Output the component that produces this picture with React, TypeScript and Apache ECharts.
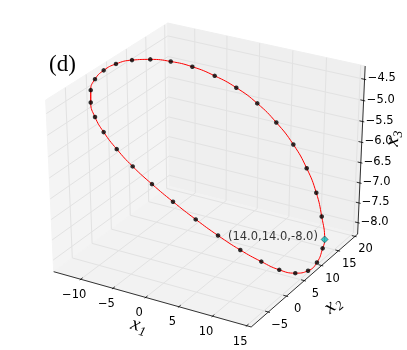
import React, { useEffect, useRef } from "react";
import * as echarts from "echarts";

// ---- view / axes ----
const ELEV = 30;
const AZIM = -60;
const DIST = 10;
const X_LIM = [-14.25, 15.65];
const Y_LIM = [-9.6, 20.8];
const Z_LIM = [-8.29, -4.19];
const X_TICKS = [-10, -5, 0, 5, 10, 15];
const Y_TICKS = [-5, 0, 5, 10, 15, 20];
const Z_TICKS = [-8.0, -7.5, -7.0, -6.5, -6.0, -5.5, -5.0, -4.5];
const X_TICK_LABELS = ["\u221210", "\u22125", "0", "5", "10", "15"];
const Y_TICK_LABELS = ["\u22125", "0", "5", "10", "15", "20"];
const Z_TICK_LABELS = ["\u22128.0", "\u22127.5", "\u22127.0", "\u22126.5", "\u22126.0", "\u22125.5", "\u22125.0", "\u22124.5"];

// ---- data: sampled points of the orbit (x1, x2, x3) ----
const X1 = [-12.85, -13.44, -13.63, -13.39, -12.71, -11.66, -10.21, -8.4, -6.22, -3.83, -1.17, 1.64, 4.55, 7.35, 9.9, 12.1,
  14.51, 15.12, 15.09, 14.36, 12.99, 11.14, 8.84, 6.26, 3.6, 0.81, -1.86, -4.41, -6.71, -8.79, -10.49, -11.86];
const X2 = [-1.21, 0.81, 3.27, 5.94, 8.86, 11.8, 14.69, 17.34, 19.63, 21.39, 22.55, 22.9, 22.49, 21.21, 19.26, 16.72,
  12.45, 9.64, 7.13, 4.86, 2.9, 1.33, -0.22, -1.56, -2.72, -3.73, -4.47, -4.97, -5.04, -4.77, -4.06, -2.84];
const X3 = [-4.43, -4.32, -4.27, -4.27, -4.33, -4.45, -4.62, -4.84, -5.12, -5.43, -5.79, -6.18, -6.59, -6.99, -7.37, -7.7,
  -8.09, -8.21, -8.23, -8.15, -7.98, -7.74, -7.44, -7.1, -6.74, -6.36, -6.0, -5.65, -5.33, -5.03, -4.79, -4.58];
const START = [14, 14, -8];
const START_INDEX = 16; // the start point sits between samples 16 and 17
const START_LABEL = "(14.0,14.0,-8.0)";

// ---- projection (matplotlib-style 3D view) ----
type V3 = number[];
const sub = (a: V3, b: V3) => [a[0] - b[0], a[1] - b[1], a[2] - b[2]];
const dot = (a: V3, b: V3) => a[0] * b[0] + a[1] * b[1] + a[2] * b[2];
const cross = (a: V3, b: V3) => [a[1] * b[2] - a[2] * b[1], a[2] * b[0] - a[0] * b[2], a[0] * b[1] - a[1] * b[0]];
const unit = (a: V3) => { const m = Math.hypot(a[0], a[1], a[2]); return [a[0] / m, a[1] / m, a[2] / m]; };
const el = (ELEV * Math.PI) / 180;
const az = (AZIM * Math.PI) / 180;
const EYE = [0.5 + Math.cos(az) * Math.cos(el) * DIST, 0.5 + Math.sin(az) * Math.cos(el) * DIST, 0.5 + Math.sin(el) * DIST];
const NV = unit(sub(EYE, [0.5, 0.5, 0.5]));
const UV = unit(cross([0, 0, 1], NV));
const VV = cross(NV, UV);
const SCR = { cx: 208, kx: 2280, cy: 169.8, ky: 1960 };

function projN(p: V3) {
  const d = sub(p, EYE);
  const w = -dot(NV, d);
  return [SCR.cx + (SCR.kx * dot(UV, d)) / w, SCR.cy - (SCR.ky * dot(VV, d)) / w];
}
const nx = (x: number) => (x - X_LIM[0]) / (X_LIM[1] - X_LIM[0]);
const ny = (y: number) => (y - Y_LIM[0]) / (Y_LIM[1] - Y_LIM[0]);
const nz = (z: number) => (z - Z_LIM[0]) / (Z_LIM[1] - Z_LIM[0]);
const proj = (p: V3) => projN([nx(p[0]), ny(p[1]), nz(p[2])]);

const PANE_COLORS = ["#f4f4f4", "#efefef", "#f2f2f2"];

function buildOption() {
  const seg = (a: V3, b: V3) => ({ coords: [projN(a), projN(b)] });
  const panes = [
    [[0, 0, 0], [0, 1, 0], [0, 1, 1], [0, 0, 1]],
    [[0, 1, 0], [1, 1, 0], [1, 1, 1], [0, 1, 1]],
    [[0, 0, 0], [1, 0, 0], [1, 1, 0], [0, 1, 0]],
  ].map((poly) => poly.flatMap((c) => projN(c)));

  const grid: any[] = [];
  X_TICKS.forEach((v) => { const t = nx(v); grid.push(seg([t, 0, 0], [t, 1, 0]), seg([t, 1, 0], [t, 1, 1])); });
  Y_TICKS.forEach((v) => { const t = ny(v); grid.push(seg([0, t, 0], [1, t, 0]), seg([0, t, 0], [0, t, 1])); });
  Z_TICKS.forEach((v) => { const t = nz(v); grid.push(seg([0, 0, t], [0, 1, t]), seg([0, 1, t], [1, 1, t])); });

  const DL = 0.08, OUT = 0.1 * DL, IN = 0.2 * DL, LF = 0.7 * DL;
  const axes = [seg([0, 0, 0], [1, 0, 0]), seg([1, 0, 0], [1, 1, 0]), seg([1, 1, 0], [1, 1, 1])];
  X_TICKS.forEach((v) => { const t = nx(v); axes.push(seg([t, -OUT, 0], [t, IN, 0])); });
  Y_TICKS.forEach((v) => { const t = ny(v); axes.push(seg([1 + OUT, t, 0], [1 - IN, t, 0])); });
  Z_TICKS.forEach((v) => { const t = nz(v); axes.push(seg([1 + OUT, 1, t], [1 - IN, 1, t])); });

  const labelPts: number[][] = [];
  const labelTxt: string[] = [];
  X_TICKS.forEach((v, i) => { labelPts.push(projN([nx(v), -LF, -LF])); labelTxt.push(X_TICK_LABELS[i]); });
  Y_TICKS.forEach((v, i) => { labelPts.push(projN([1 + LF, ny(v), -LF])); labelTxt.push(Y_TICK_LABELS[i]); });
  Z_TICKS.forEach((v, i) => { labelPts.push(projN([1 + LF, 1 + LF, nz(v)])); labelTxt.push(Z_TICK_LABELS[i]); });

  const dotPts = X1.map((x, i) => proj([x, X2[i], X3[i]]));
  const startPt = proj(START);
  const loop = [...dotPts.slice(0, START_INDEX), startPt, ...dotPts.slice(START_INDEX)];
  const curve = [loop[loop.length - 1], ...loop, loop[0]];

  const font = "DejaVu Sans";
  const axLabel = (x: number, y: number, rot: number, s: string) => ({
    type: "group", x, y, rotation: rot, z: 100,
    children: [
      { type: "text", x: 0, y: 0, style: { text: "x", font: 'italic 20px "Liberation Serif"', fill: "#000", align: "center", verticalAlign: "middle" } },
      { type: "text", x: 5, y: 6, style: { text: s, font: 'italic 13px "Liberation Serif"', fill: "#000", align: "left", verticalAlign: "middle" } },
    ],
  });

  return {
    animation: false,
    grid: { left: 0, right: 0, top: 0, bottom: 0 },
    xAxis: { type: "value", min: 0, max: 407, show: false },
    yAxis: { type: "value", min: 0, max: 350, inverse: true, show: false },
    series: [
      {
        type: "custom", z: 1, silent: true, clip: false,
        data: panes,
        encode: { x: [0, 2, 4, 6], y: [1, 3, 5, 7] },
        renderItem: (params: any, api: any) => {
          const pts = [0, 1, 2, 3].map((i) => api.coord([api.value(2 * i), api.value(2 * i + 1)]));
          const c = PANE_COLORS[params.dataIndex];
          return { type: "polygon", shape: { points: pts }, style: { fill: c, stroke: c, lineWidth: 1 } };
        },
      },
      { type: "lines", coordinateSystem: "cartesian2d", z: 2, silent: true, data: grid, lineStyle: { color: "#e2e2e2", width: 1, opacity: 1 } },
      { type: "lines", coordinateSystem: "cartesian2d", z: 3, silent: true, data: axes, lineStyle: { color: "#000", width: 0.8, opacity: 1 } },
      {
        type: "custom", z: 4, silent: true, clip: false,
        data: labelPts,
        encode: { x: 0, y: 1 },
        renderItem: (params: any, api: any) => {
          const p = api.coord([api.value(0), api.value(1)]);
          return { type: "text", x: p[0], y: p[1], style: { text: labelTxt[params.dataIndex], fill: "#000", fontSize: 11.5, fontFamily: font, align: "center", verticalAlign: "middle" } };
        },
      },
      { type: "line", z: 5, data: curve, smooth: true, showSymbol: false, symbol: "none", lineStyle: { color: "#ff0000", width: 1 } },
      { type: "scatter", z: 6, data: dotPts, symbol: "circle", symbolSize: 4.5, itemStyle: { color: "#000" } },
      {
        type: "scatter", z: 7, data: [startPt], symbol: "diamond", symbolSize: 7,
        itemStyle: { color: "#00bfbf", borderColor: "#000", borderWidth: 0.5 },
        label: { show: true, position: "left", distance: 3, offset: [0, -3], formatter: START_LABEL, color: "#000", fontSize: 11.5, fontFamily: font },
      },
    ],
    graphic: [
      { type: "text", left: 49, top: 52, z: 100, style: { text: "(d)", font: '23px "Liberation Serif"', fill: "#000" } },
      axLabel(136, 323, -0.276, "1"),
      axLabel(329, 306, 0.696, "2"),
      axLabel(391, 142, 1.513, "3"),
    ],
  };
}

export default function App() {
  const ref = useRef<HTMLDivElement>(null);
  useEffect(() => {
    const chart = echarts.init(ref.current!, null, { renderer: "svg" });
    chart.setOption(buildOption() as any);
    return () => chart.dispose();
  }, []);
  return <div ref={ref} style={{ position: "fixed", left: 0, top: 0, width: 407, height: 350 }} />;
}
